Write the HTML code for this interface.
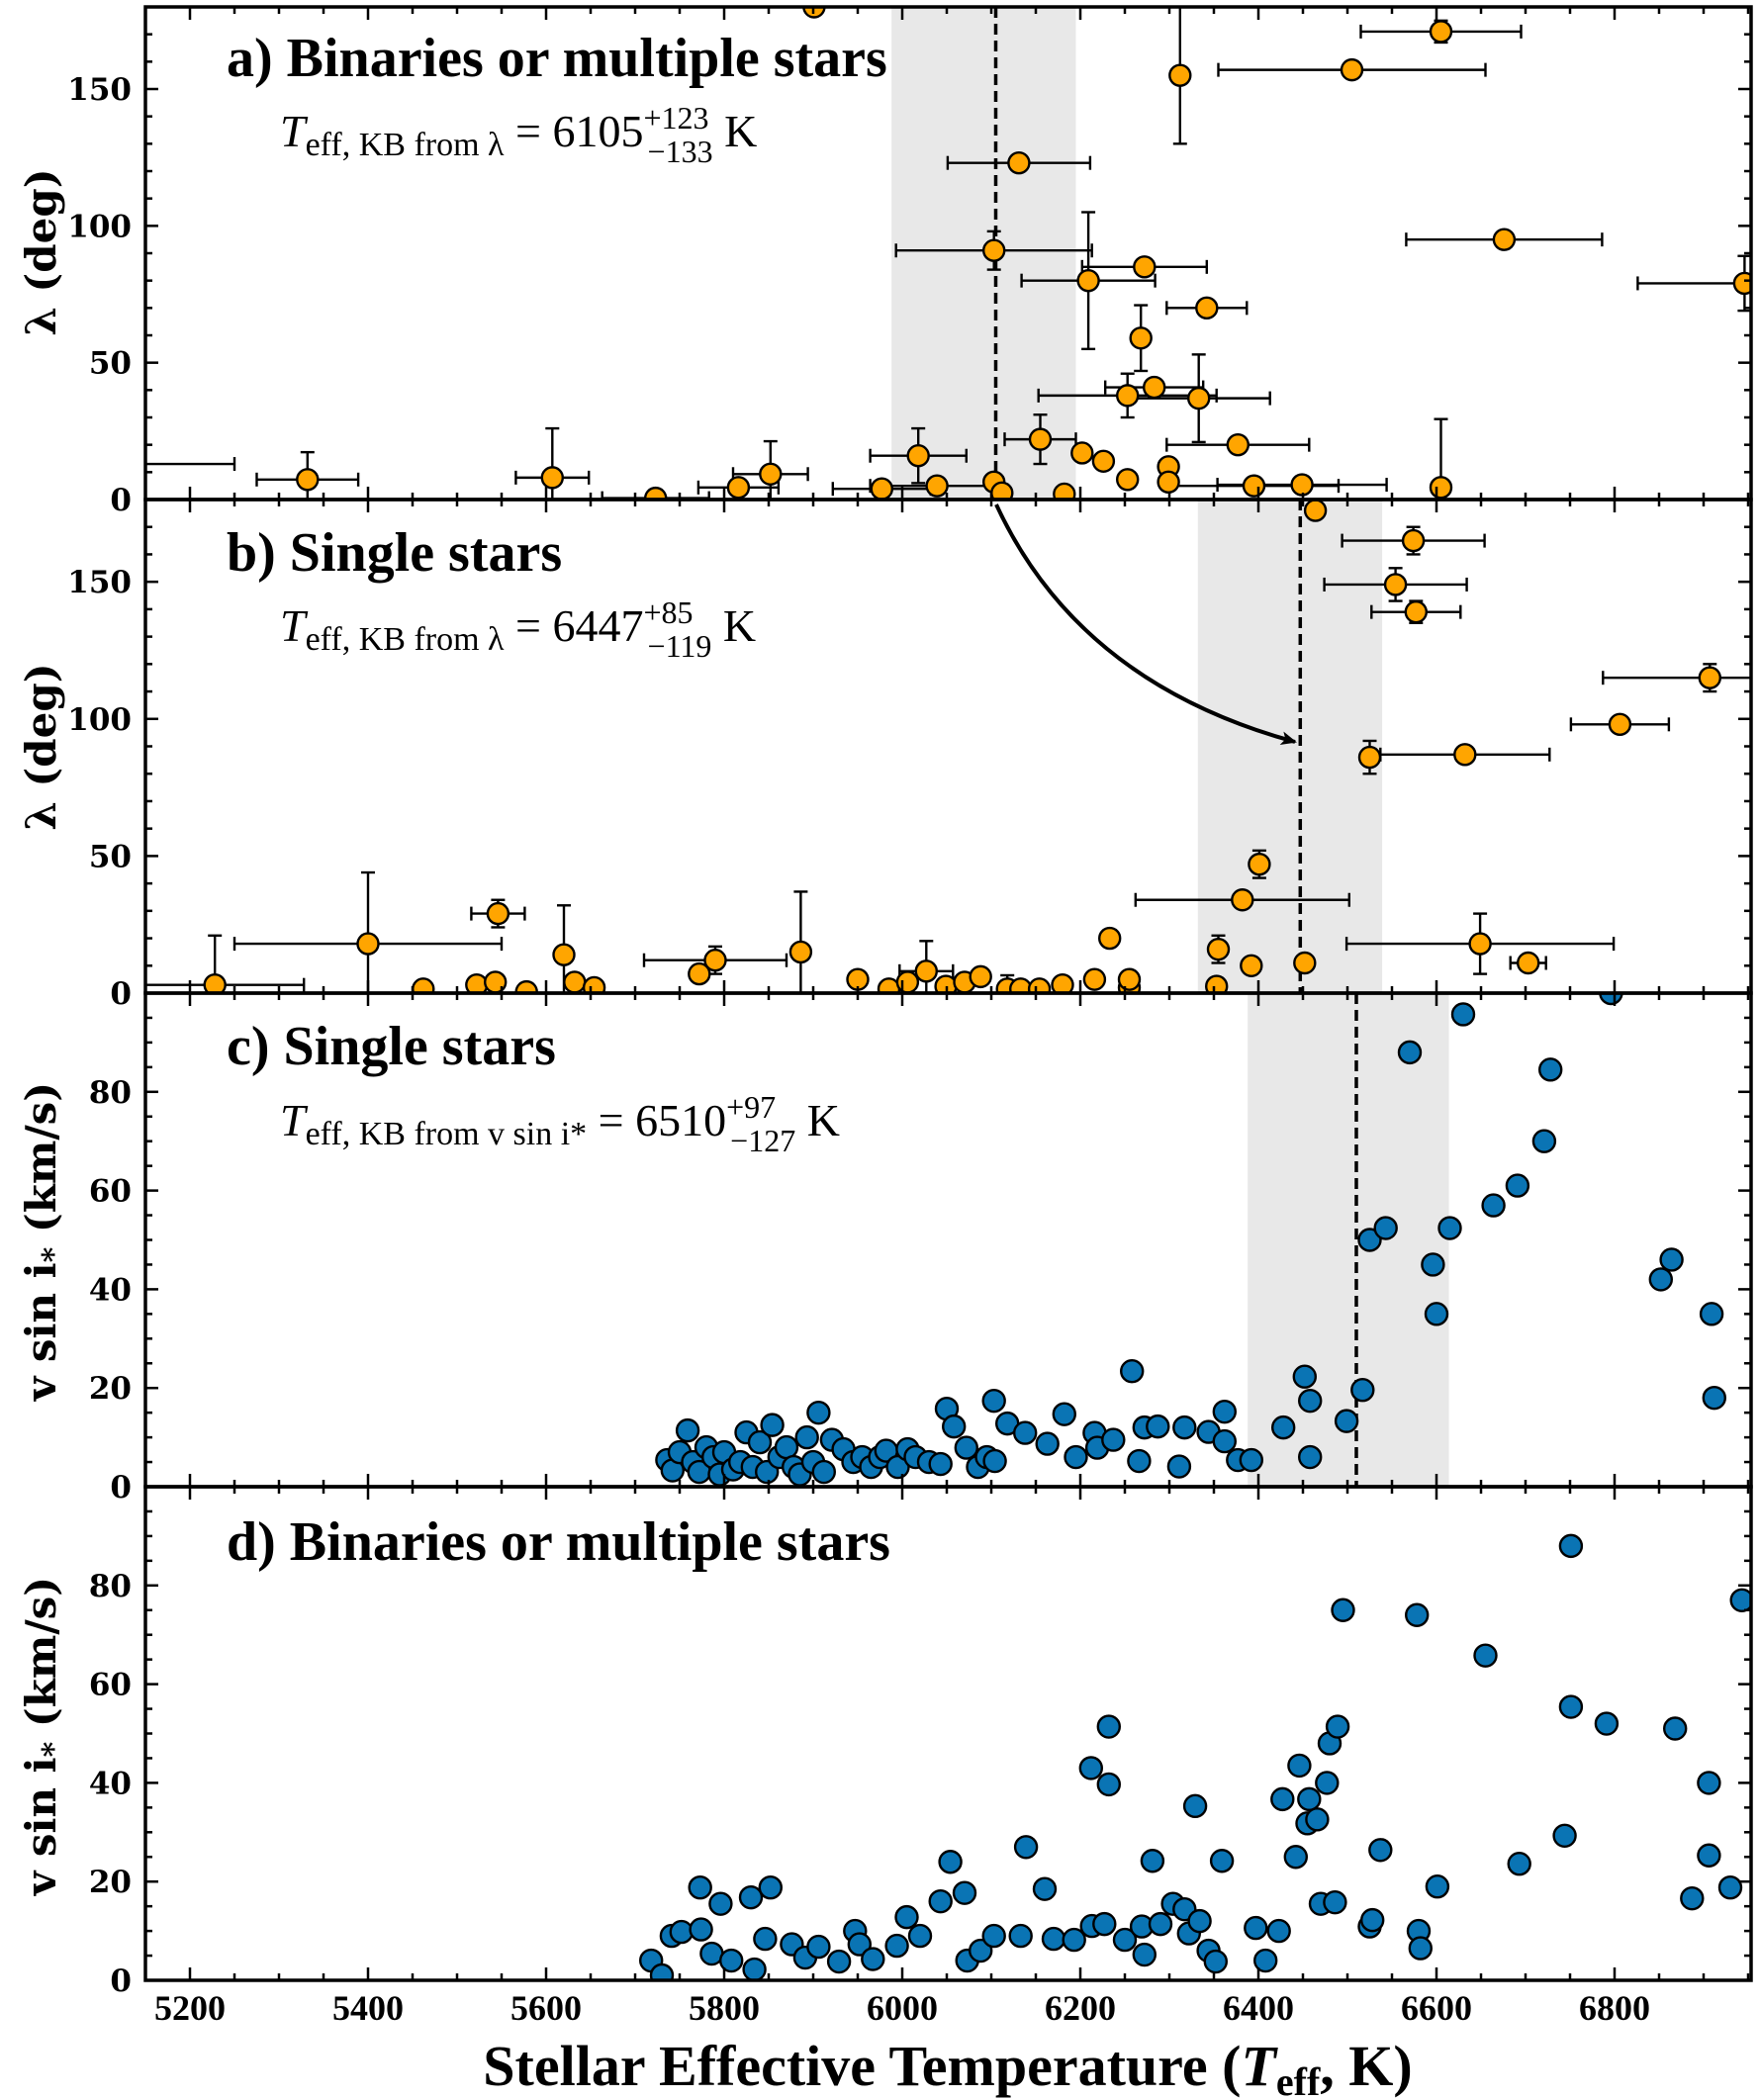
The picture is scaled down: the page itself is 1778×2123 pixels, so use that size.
<!DOCTYPE html>
<html><head><meta charset="utf-8"><style>
html,body{margin:0;padding:0;background:#fff;}
svg{display:block;font-family:"Liberation Serif",serif;}
</style></head><body>
<svg id="chart" width="1778" height="2123" viewBox="0 0 1778 2123" xmlns="http://www.w3.org/2000/svg"></svg>
<script>
// ---------- data ----------
const aT   = [5100,5332,5607,5723,5816,5852,5901,5977,6018,6039,6103,6103,6112,6131,6155,6182,6202,6209,6226,6253,6253,6268,6272,6283,6299,6299,6312,6333,6342,6377,6395,6449,6505,6605,6605,6676,6946];
const aLam = [13,7.3,8,0.5,4.4,9.3,180,3.9,16,5,91,6.4,2.4,123,22,2,17,80,14,7.3,38,59,85,41,12,6.4,155,37,70,20,5,5.4,157,171,4.4,95,79];
const aXe  = [150,57,41,60,45,42,0,55,54,75,110,0,0,80,40,0,0,75,0,0,100,0,70,55,0,0,0,80,45,80,95,95,150,90,0,110,120];
const aYe  = [0,10,18,0,0,12,0,0,10,0,7,0,0,0,9,0,0,25,0,0,8,12,0,0,0,0,25,16,0,0,0,0,0,4,25,0,10];
const bT   = [5228,5400,5462,5522,5543,5546,5578,5620,5632,5654,5772,5790,5886,5950,5985,6006,6027,6049,6070,6088,6118,6133,6154,6180,6216,6233,6255,6255,6353,6355,6382,6392,6401,6452,6464,6574,6554,6577,6525,6632,6806,6907,6649,6703];
const bLam = [3,18,1.5,3,4,29,0.5,14,4,2,7,12,15,5,1.5,4,8,2.5,4,6,1.5,1.5,1.5,3,5,20,2,5,2.5,16,34,10,47,11,176,165,149,139,86,87,98,115,18,11];
const bXe  = [100,150,0,0,0,30,0,0,0,0,0,80,0,0,0,0,30,0,0,0,0,0,0,0,0,0,0,0,0,0,120,0,0,0,0,80,80,50,0,95,55,120,150,20];
const bYe  = [18,26,0,0,0,5,0,18,0,0,0,5,22,0,0,0,11,0,0,0,5,0,0,0,0,3,0,0,0,5,0,0,5,0,0,5,6,4,6,0,0,5,11,0];
const cT = [5736,5742,5759,5750,5765,5772,5780,5788,5795,5800,5810,5818,5825,5832,5840,5848,5854,5862,5870,5878,5885,5893,5900,5906,5912,5921,5934,5945,5955,5965,5975,5982,5995,6006,6015,6030,6043,6050,6058,6072,6085,6095,6103,6104,6118,6138,6163,6182,6195,6216,6219,6237,6258,6266,6272,6287,6311,6317,6344,6362,6362,6377,6392,6428,6452,6458,6458,6499,6517,6525,6543,6570,6596,6600,6615,6630,6664,6691,6721,6728,6796,6852,6864,6909,6912];
const cV = [5.4,3.3,11.4,7,5,3,8,6,2.5,7,3.5,5,11,4,9,3,12.5,6,8,4,2.5,10,5,15,3,9.5,7.6,5,6,4,6,7.3,4,7.6,6,5,4.6,15.8,12.2,7.9,4,6,17.4,5.2,12.8,10.9,8.7,14.7,6,10.9,7.9,9.5,23.4,5.2,12,12.2,4.1,12,11.1,9.2,15.2,5.4,5.4,12,22.3,17.4,6,13.3,19.6,50,52.4,88,45,35,52.4,95.7,57,61,70,84.5,100,42,46,35,18];
const dT = [5718,5730,5741,5752,5773,5796,5774,5786,5808,5834,5830,5852,5846,5876,5891,5906,5929,5947,5952,5967,5994,6005,6020,6043,6054,6070,6073,6088,6103,6133,6139,6160,6170,6193,6213,6212,6227,6232,6232,6250,6269,6272,6281,6290,6304,6317,6329,6322,6334,6344,6352,6359,6397,6408,6423,6427,6442,6446,6455,6457,6466,6470,6477,6480,6489,6486,6495,6525,6528,6537,6580,6582,6578,6601,6655,6693,6744,6751,6751,6791,6868,6887,6906,6906,6930,6943];
const dV = [4,1,9,9.8,18.8,15.5,10.3,5.4,4,2.2,16.8,18.8,8.4,7.3,4.6,6.8,3.8,10,7.3,4.3,7,12.8,9,16,24,17.7,4,6,9,9,27,18.5,8.4,8.2,11,43,11.4,51.4,39.7,8.2,10.9,5.2,24.2,11.4,15.5,14.4,35.3,9.5,12,6,3.8,24.2,10.6,4,10,36.7,25,43.5,31.8,36.7,32.6,15.5,40,48,51.4,15.8,75,10.9,12.2,26.4,10,6.5,74,19,65.8,23.6,29.3,55.4,88,52,51,16.6,40,25.3,18.8,77];
const xTicks = [5200,5400,5600,5800,6000,6200,6400,6600,6800];
const lamTicks = [0,50,100,150];
const vTicks = [0,20,40,60,80];
const kbT = [6105,6447,6510];
const kbLo = [5988,6332,6388];
const kbHi = [6195,6539,6614];

// ---------- layout ----------
const NS="http://www.w3.org/2000/svg";
const svg=document.getElementById('chart');
const L=147,R=1770;
const panels=[{top:7,bot:505},{top:505,bot:1004},{top:1004,bot:1503},{top:1503,bot:2002}];
const X=t=>192+(t-5200)*0.9;
function mk(tag,attrs,parent){const e=document.createElementNS(NS,tag);for(const k in attrs)e.setAttribute(k,attrs[k]);(parent||svg).appendChild(e);return e;}
const defs=mk('defs',{});
panels.forEach((p,i)=>{const cp=mk('clipPath',{id:'clip'+i},defs);mk('rect',{x:L,y:p.top,width:R-L,height:p.bot-p.top},cp);});
const mkr=mk('marker',{id:'arrowhead',markerWidth:16,markerHeight:14,refX:14,refY:7,orient:'auto',markerUnits:'userSpaceOnUse'},defs);
mk('path',{d:'M0,0 L16,7 L0,14 L4,7 Z',fill:'#000'},mkr);

function Yf(i,max){const p=panels[i];return v=>p.bot-(v/max)*(p.bot-p.top);}

[0,1,2].forEach(i=>{
  const p=panels[i];
  const band=mk('rect',{x:X(kbLo[i]),y:p.top,width:X(kbHi[i])-X(kbLo[i]),height:p.bot-p.top,fill:'#e8e8e8'});
  
  
  const dl=mk('line',{x1:X(kbT[i]),x2:X(kbT[i]),y1:p.top,y2:p.bot,stroke:'#000','stroke-width':3.5,'stroke-dasharray':'11,6'});
  
  
});

function errPanel(i,T,V,XE,YE,max,name){
  const Y=Yf(i,max);
  const g=mk('g',{'clip-path':'url(#clip'+i+')'});
  
  
  T.forEach((t,k)=>{
    const x=X(t),y=Y(V[k]);
    if(XE[k]>0){
      const x1=X(t-XE[k]),x2=X(t+XE[k]);
      mk('line',{x1:x1,x2:x2,y1:y,y2:y,stroke:'#000','stroke-width':2.4},g);
      mk('line',{x1:x1,x2:x1,y1:y-7,y2:y+7,stroke:'#000','stroke-width':2.4},g);
      mk('line',{x1:x2,x2:x2,y1:y-7,y2:y+7,stroke:'#000','stroke-width':2.4},g);
    }
    if(YE[k]>0){
      const y1=Y(V[k]+YE[k]),y2=Y(Math.max(0,V[k]-YE[k]));
      mk('line',{x1:x,x2:x,y1:y1,y2:y2,stroke:'#000','stroke-width':2.4},g);
      mk('line',{x1:x-7,x2:x+7,y1:y1,y2:y1,stroke:'#000','stroke-width':2.4},g);
      mk('line',{x1:x-7,x2:x+7,y1:y2,y2:y2,stroke:'#000','stroke-width':2.4},g);
    }
  });
  T.forEach((t,k)=>{
    const c=mk('circle',{cx:X(t),cy:Y(V[k]),r:10.5,fill:'#ffa500',stroke:'#000','stroke-width':2.4},g);
    
    
  });
}
function dotPanel(i,T,V,max,name){
  const Y=Yf(i,max);
  const g=mk('g',{'clip-path':'url(#clip'+i+')'});
  
  
  T.forEach((t,k)=>{
    const c=mk('circle',{cx:X(t),cy:Y(V[k]),r:11,fill:'#0a74b4',stroke:'#000','stroke-width':2.4},g);
    
    
  });
}
errPanel(0,aT,aLam,aXe,aYe,180,'panel-a-points');
errPanel(1,bT,bLam,bXe,bYe,180,'panel-b-points');
dotPanel(2,cT,cV,100,'panel-c-points');
dotPanel(3,dT,dV,100,'panel-d-points');

panels.forEach((p,i)=>{
  const fr=mk('rect',{x:L,y:p.top,width:R-L,height:p.bot-p.top,fill:'none',stroke:'#000','stroke-width':3.5});
  
  
  for(let t=5150;t<=6950;t+=50){
    const maj=(t%200===0);const len=maj?13:7;
    mk('line',{x1:X(t),x2:X(t),y1:p.bot,y2:p.bot-len,stroke:'#000','stroke-width':2.5});
    mk('line',{x1:X(t),x2:X(t),y1:p.top,y2:p.top+len,stroke:'#000','stroke-width':2.5});
  }
  const lam=i<2, max=lam?180:100, step=lam?10:5, majS=lam?50:20;
  const Y=Yf(i,max);
  for(let v=0;v<max;v+=step){
    const len=(v%majS===0)?13:7;
    mk('line',{x1:L,x2:L+len,y1:Y(v),y2:Y(v),stroke:'#000','stroke-width':2.5});
    mk('line',{x1:R,x2:R-len,y1:Y(v),y2:Y(v),stroke:'#000','stroke-width':2.5});
  }
  (lam?lamTicks:vTicks).forEach(v=>{
    const t=mk('text',{x:L-14,y:Y(v)+11,'text-anchor':'end','font-size':31,'font-weight':'bold','font-family':'"DejaVu Serif",serif'});
    t.textContent=v;
    
    
  });
});
xTicks.forEach(t=>{
  const e=mk('text',{x:X(t),y:2042,'text-anchor':'middle','font-size':36,'font-weight':'bold'});
  e.textContent=t;
  
  
});

const ar=mk('path',{d:'M1007,510 Q1090,690 1309,750',fill:'none',stroke:'#000','stroke-width':4,'marker-end':'url(#arrowhead)'});


</script>
<svg width="1778" height="2123" style="position:absolute;left:0;top:0;font-family:'Liberation Serif',serif;">
<text x="229" y="77" font-size="56" font-weight="bold">a) Binaries or multiple stars</text>
<text x="283" y="148" font-size="46"><tspan font-style="italic">T</tspan><tspan font-size="34" dy="9">eff, KB from λ</tspan><tspan dy="-9"> = 6105</tspan><tspan font-size="32" dy="-18">+123</tspan><tspan font-size="32" dx="-62" dy="34">−133</tspan><tspan dy="-16">  K</tspan></text>
<text x="229" y="577" font-size="56" font-weight="bold">b) Single stars</text>
<text x="283" y="648" font-size="46"><tspan font-style="italic">T</tspan><tspan font-size="34" dy="9">eff, KB from λ</tspan><tspan dy="-9"> = 6447</tspan><tspan font-size="32" dy="-18">+85</tspan><tspan font-size="32" dx="-46" dy="34">−119</tspan><tspan dy="-16">  K</tspan></text>
<text x="229" y="1076" font-size="56" font-weight="bold">c) Single stars</text>
<text x="283" y="1148" font-size="46"><tspan font-style="italic">T</tspan><tspan font-size="34" dy="9">eff, KB from v sin i*</tspan><tspan dy="-9"> = 6510</tspan><tspan font-size="32" dy="-18">+97</tspan><tspan font-size="32" dx="-46" dy="34">−127</tspan><tspan dy="-16">  K</tspan></text>
<text x="229" y="1577" font-size="56" font-weight="bold">d) Binaries or multiple stars</text>
<text x="958" y="2108" font-size="58" font-weight="bold" text-anchor="middle">Stellar Effective Temperature (<tspan font-style="italic">T</tspan><tspan font-size="40" dy="10">eff</tspan><tspan dy="-10">, K)</tspan></text>
<text transform="translate(56,255) rotate(-90)" font-size="42" font-weight="bold" text-anchor="middle" font-family="DejaVu Serif, serif">λ (deg)</text>
<text transform="translate(56,755) rotate(-90)" font-size="42" font-weight="bold" text-anchor="middle" font-family="DejaVu Serif, serif">λ (deg)</text>
<text transform="translate(56,1255) rotate(-90)" font-size="42" font-weight="bold" text-anchor="middle" font-family="DejaVu Serif, serif">v sin i<tspan font-size="30" dy="8">*</tspan><tspan dy="-8"> (km/s)</tspan></text>
<text transform="translate(56,1755) rotate(-90)" font-size="42" font-weight="bold" text-anchor="middle" font-family="DejaVu Serif, serif">v sin i<tspan font-size="30" dy="8">*</tspan><tspan dy="-8"> (km/s)</tspan></text>
</svg>
</body></html>
